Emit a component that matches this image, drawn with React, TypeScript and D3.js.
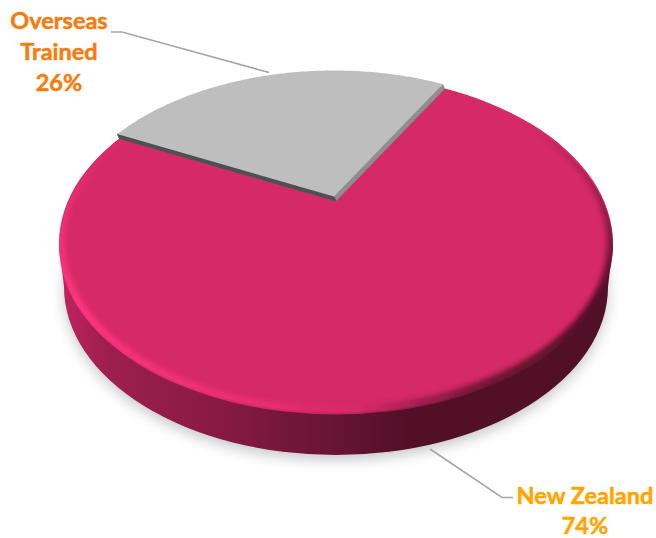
import React, { useMemo } from "react";
import * as d3 from "d3";

// Share of practitioners by place of training, in percent.
const categories = ["New Zealand", "Overseas Trained"];
const shares = [74, 26];
const labelLines = [["New Zealand", "74%"], ["Overseas", "Trained", "26%"]];

const WIDTH = 656;
const HEIGHT = 538;

// Top face of the disc, seen in perspective.
const face = { cx: 336, cy: 243.5, rx: 277, ry: 168.5, tilt: -0.252 };
// Lower outline of the disc wall.
const base = { cx: 336, cy: 287, rx: 272, ry: 168 };
// Lift of the thin raised slice above the disc.
const lift: [number, number] = [-2, -4.5];
const startDegrees = 29.7;

const lineGen = d3.line<[number, number]>().curve(d3.curveLinear);

// Projects a point of the unit disc so that circles stay ellipses and straight
// lines stay straight while the disc's centre moves towards the far edge.
function project(u: number, v: number): [number, number] {
  const k = face.tilt;
  const d = 1 + k * v;
  return [face.cx + (face.rx * u * Math.sqrt(1 - k * k)) / d, face.cy + (face.ry * (v + k)) / d];
}

function rimPoints(a0: number, a1: number): [number, number][] {
  return d3.range(0, 121).map((i) => {
    const a = a0 + ((a1 - a0) * i) / 120;
    return project(Math.sin(a), -Math.cos(a));
  });
}

function ellipsePath(e: { cx: number; cy: number; rx: number; ry: number }) {
  return `M${e.cx - e.rx},${e.cy}A${e.rx},${e.ry} 0 1 0 ${e.cx + e.rx},${e.cy}A${e.rx},${e.ry} 0 1 0 ${e.cx - e.rx},${e.cy}Z`;
}

export default function App() {
  const arcs = useMemo(() => {
    const start = (startDegrees * Math.PI) / 180;
    return d3.pie<number>().sort(null).startAngle(start).endAngle(start + 2 * Math.PI)(shares);
  }, []);

  const grey = arcs[1];
  const apex = project(0, 0);
  const rim = rimPoints(grey.startAngle, grey.endAngle);
  const first = rim[0];
  const last = rim[rim.length - 1];
  const shift = (p: [number, number]): [number, number] => [p[0] + lift[0], p[1] + lift[1]];

  const greyBase = lineGen([apex, ...rim])! + "Z";
  // The slice runs clockwise, so its first edge faces the viewer's lower left.
  const shadedEdge = lineGen([apex, first, shift(first), shift(apex)])! + "Z";
  const litEdge = lineGen([apex, last, shift(last), shift(apex)])! + "Z";
  const greyTop = lineGen([shift(apex), ...rim.map(shift)])! + "Z";

  // Wall silhouette: the lower ellipse joined to the widest points of the face.
  const wall =
    `M${face.cx - face.rx},${face.cy}L${base.cx - base.rx},${base.cy}` +
    `A${base.rx},${base.ry} 0 0 0 ${base.cx + base.rx},${base.cy}L${face.cx + face.rx},${face.cy}Z`;

  return (
    <svg
      width={WIDTH}
      height={HEIGHT}
      viewBox={`0 0 ${WIDTH} ${HEIGHT}`}
      style={{ position: "absolute", left: 0, top: 0, background: "#fff" }}
    >
      <defs>
        <linearGradient id="wallShade" gradientUnits="userSpaceOnUse" x1={60} x2={610} y1={0} y2={0}>
          <stop offset="0" stopColor="#c0235f" />
          <stop offset="0.08" stopColor="#9f1f4e" />
          <stop offset="0.3" stopColor="#861a40" />
          <stop offset="0.5" stopColor="#671432" />
          <stop offset="0.63" stopColor="#521027" />
          <stop offset="1" stopColor="#521027" />
        </linearGradient>
        <linearGradient id="bevelShade" gradientUnits="userSpaceOnUse" x1={60} x2={610} y1={0} y2={0}>
          <stop offset="0" stopColor="#ff3580" />
          <stop offset="0.12" stopColor="#f5327a" />
          <stop offset="0.36" stopColor="#e82e70" />
          <stop offset="0.46" stopColor="#dd2c6a" />
          <stop offset="0.54" stopColor="#d62a66" />
          <stop offset="0.64" stopColor="#a82054" />
          <stop offset="0.78" stopColor="#6e1432" />
          <stop offset="1" stopColor="#521027" />
        </linearGradient>
        <linearGradient id="bevelFade" gradientUnits="userSpaceOnUse" x1={0} x2={0} y1={120} y2={300}>
          <stop offset="0" stopColor="#000" />
          <stop offset="0.55" stopColor="#888" />
          <stop offset="1" stopColor="#fff" />
        </linearGradient>
        <mask id="bevelMask" maskUnits="userSpaceOnUse" x={0} y={0} width={WIDTH} height={HEIGHT}>
          <rect width={WIDTH} height={HEIGHT} fill="url(#bevelFade)" />
        </mask>
        <clipPath id="faceClip">
          {/* Slightly lower than the face so the rim melts into the wall. */}
          <path d={ellipsePath({ ...face, cy: face.cy + 2.5 })} />
        </clipPath>
        <filter id="softShadow" x="-10%" y="-10%" width="120%" height="120%">
          <feGaussianBlur stdDeviation={7} />
        </filter>
        <filter id="softEdge" x="-10%" y="-10%" width="120%" height="120%">
          <feGaussianBlur stdDeviation={2.6} />
        </filter>
      </defs>

      <path d={ellipsePath({ ...base, cy: base.cy + 5 })} fill="#000" opacity={0.22} filter="url(#softShadow)" />
      <path d={wall} fill="url(#wallShade)" />
      <path d={ellipsePath(face)} fill="#d62a66" />
      <g clipPath="url(#faceClip)">
        <g mask="url(#bevelMask)">
          <path
            d={ellipsePath({ ...face, rx: face.rx - 1, ry: face.ry - 1 })}
            fill="none"
            stroke="url(#bevelShade)"
            strokeWidth={10}
            filter="url(#softEdge)"
          />
        </g>
      </g>

      {/* Raised slice: base, its two cut faces, then the top. */}
      <path d={greyBase} fill="#8c8c8c" />
      <path d={litEdge} fill="#8e8e8e" />
      <path d={shadedEdge} fill="#4f4f4f" stroke="#4f4f4f" strokeWidth={0.8} strokeLinejoin="round" />
      <path d={greyTop} fill="#bebebe" />

      {/* Leader lines */}
      <g fill="none" stroke="#a6a6a6" strokeWidth={1.6}>
        <path d="M111,32H122L269,72.5" />
        <path d="M430,449L502,497.5H513" />
      </g>

      {/* Data labels */}
      <g
        fontFamily="Lato, Carlito, sans-serif"
        fontWeight={700}
        fontSize={23.5}
        textAnchor="middle"
        strokeWidth={0.5}
      >
        <text fill="#ffa500" stroke="#ffa500" aria-label={categories[0]}>
          {labelLines[0].map((t, i) => (
            <tspan key={t} x={585} y={504 + i * 30}>
              {t}
            </tspan>
          ))}
        </text>
        <text fill="#f57c0e" stroke="#f57c0e" aria-label={categories[1]}>
          {labelLines[1].map((t, i) => (
            <tspan key={t} x={59} y={29 + i * 31}>
              {t}
            </tspan>
          ))}
        </text>
      </g>
    </svg>
  );
}
